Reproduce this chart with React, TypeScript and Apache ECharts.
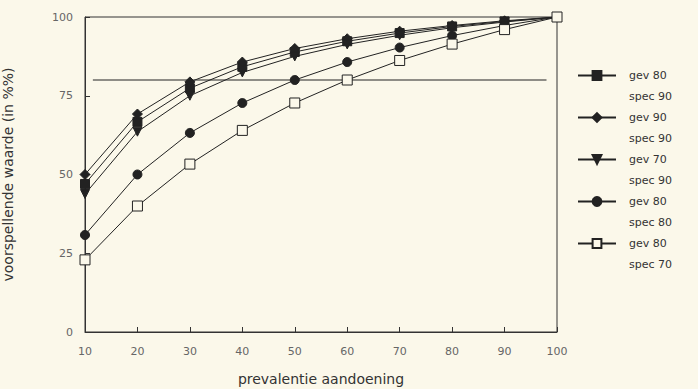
import React, { useEffect, useRef } from "react";
import * as echarts from "echarts";

const prevalence = [10, 20, 30, 40, 50, 60, 70, 80, 90, 100];
const gev80spec90 = [47, 66.7, 77.4, 84.2, 88.9, 92.3, 94.9, 97, 98.6, 100];
const gev90spec90 = [50, 69.2, 79.4, 85.7, 90, 93.1, 95.5, 97.3, 98.8, 100];
const gev70spec90 = [43.8, 63.6, 75, 82.4, 87.5, 91.3, 94.2, 96.6, 98.4, 100];
const gev80spec80 = [30.8, 50, 63.2, 72.7, 80, 85.7, 90.3, 94.1, 97.3, 100];
const gev80spec70 = [22.9, 40, 53.3, 64, 72.7, 80, 86.2, 91.4, 96, 100];
const refLineX = [11.5, 98];
const refLineY = 80;
const seriesNames = [
  "gev 80\nspec 90",
  "gev 90\nspec 90",
  "gev 70\nspec 90",
  "gev 80\nspec 80",
  "gev 80\nspec 70",
];

const BG = "#fbf8ea";
const INK = "#222";
const FONT = "DejaVu Sans";

export default function App() {
  const ref = useRef<HTMLDivElement>(null);
  useEffect(() => {
    document.body.style.margin = "0";
    document.body.style.background = BG;
    const chart = echarts.init(ref.current!, null, { renderer: "svg" });
    const mk = (
      name: string,
      vals: number[],
      symbol: string,
      size: number,
      fill: string,
      rotate = 0
    ) => ({
      name,
      type: "line",
      data: prevalence.map((p, i) => [p, vals[i]]),
      symbol,
      symbolSize: size,
      symbolRotate: rotate,
      showSymbol: true,
      lineStyle: { color: INK, width: 1 },
      itemStyle: { color: fill, borderColor: INK, borderWidth: 1 },
      z: 3,
    });
    chart.setOption({
      animation: false,
      backgroundColor: BG,
      textStyle: { fontFamily: FONT },
      grid: {
        left: 85,
        right: 141,
        top: 17,
        bottom: 57,
        outerBoundsMode: "none",
        containLabel: false,
        show: true,
        borderColor: "#333",
        borderWidth: 1,
        backgroundColor: "transparent",
      },
      legend: {
        data: seriesNames,
        orient: "vertical",
        left: 577,
        top: 44,
        padding: 0,
        itemWidth: 38,
        itemHeight: 11,
        itemGap: -21,
        formatter: (n: string) => " \n" + n,
        textStyle: {
          fontFamily: FONT,
          fontSize: 11,
          color: "#333",
          lineHeight: 21,
          padding: [0, 0, 0, 8],
        },
      },
      xAxis: {
        type: "value",
        min: 10,
        max: 100,
        interval: 10,
        name: "prevalentie aandoening",
        nameLocation: "middle",
        nameGap: 40,
        nameTextStyle: { fontSize: 14, color: "#333", fontFamily: FONT },
        axisLine: { lineStyle: { color: "#333" } },
        axisTick: { inside: true, length: 5, lineStyle: { color: "#333" } },
        axisLabel: { color: "#666", fontSize: 11, margin: 14, fontFamily: FONT },
        splitLine: { show: false },
      },
      yAxis: {
        type: "value",
        min: 0,
        max: 100,
        interval: 25,
        name: "voorspellende waarde (in %%)",
        nameLocation: "middle",
        nameGap: 70,
        nameTextStyle: { fontSize: 14, color: "#333", fontFamily: FONT },
        axisLine: { show: true, lineStyle: { color: "#333" } },
        axisTick: { show: true, inside: true, length: 5, lineStyle: { color: "#333" } },
        axisLabel: { color: "#666", fontSize: 11, margin: 12, fontFamily: FONT },
        splitLine: { show: false },
      },
      series: [
        mk(seriesNames[0], gev80spec90, "rect", 9, INK),
        mk(seriesNames[1], gev90spec90, "diamond", 10, INK),
        mk(seriesNames[2], gev70spec90, "triangle", 9, INK, 180),
        mk(seriesNames[3], gev80spec80, "circle", 9, INK),
        mk(seriesNames[4], gev80spec70, "rect", 10, BG),
        {
          name: "ref",
          type: "line",
          data: [
            [refLineX[0], refLineY],
            [refLineX[1], refLineY],
          ],
          symbol: "none",
          lineStyle: { color: INK, width: 1 },
          silent: true,
          z: 2,
        },
      ],
    });
    return () => chart.dispose();
  }, []);
  return <div ref={ref} style={{ width: 698, height: 389 }} />;
}
